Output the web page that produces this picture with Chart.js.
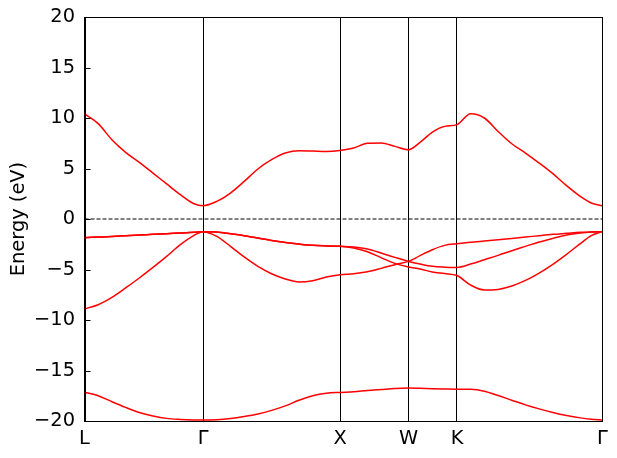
<!DOCTYPE html>
<html>
<head>
<meta charset="utf-8">
<script src="https://cdn.jsdelivr.net/npm/chart.js@4.4.1/dist/chart.umd.min.js"></script>
<style>
  html, body { margin: 0; padding: 0; background: #ffffff; }
  #wrap { width: 617px; height: 458px; }
</style>
</head>
<body>
<div id="wrap"><canvas id="bandChart" width="617" height="458"></canvas></div>
<script>
// 1. Data: k-path (2π/a units) and band energies (eV)
const kPath = [
  0, 0.1, 0.2, 0.3, 0.4, 0.5, 0.6, 0.7, 0.8, 0.866,              // L -> Γ
  0.966, 1.066, 1.166, 1.266, 1.366, 1.466, 1.566, 1.666, 1.766, 1.866, // Γ -> X
  1.966, 2.066, 2.166, 2.266, 2.366,                            // X -> W
  2.45, 2.54, 2.63, 2.72,                                       // W -> K
  2.82, 2.92, 3.02, 3.12, 3.22, 3.32, 3.42, 3.52, 3.62, 3.70, 3.781 // K -> Γ
];

const symPoints = [0, 0.866, 1.866, 2.366, 2.72, 3.781];
const symLabels = ['L', 'Γ', 'X', 'W', 'K', 'Γ'];
const energyTicks = [-20, -15, -10, -5, 0, 5, 10, 15, 20];
const fermiLevel = 0;

// lowest band
const band1 = [
  -17.15, -17.5, -18.09, -18.65, -19.15, -19.5, -19.74, -19.84, -19.89, -19.9,
  -19.87, -19.75, -19.55, -19.3, -18.95, -18.5, -17.95, -17.5, -17.25, -17.17,
  -17.11, -16.98, -16.88, -16.78, -16.73,
  -16.76, -16.8, -16.83, -16.85,
  -16.86, -17.05, -17.48, -17.94, -18.4, -18.8, -19.16, -19.46, -19.69, -19.82, -19.9
];

// valence lines, traced as continuous curves
const valenceA = [
  -8.9, -8.49, -7.76, -6.83, -5.84, -4.79, -3.7, -2.54, -1.62, -1.25,
  -1.72, -2.71, -3.76, -4.69, -5.42, -5.94, -6.24, -6.12, -5.75, -5.51,
  -5.42, -5.22, -4.89, -4.52, -4.2,
  -3.63, -3.04, -2.61, -2.45,
  -2.31, -2.18, -2.05, -1.92, -1.79, -1.65, -1.52, -1.42, -1.32, -1.29, -1.25
];

const valenceB = [
  -1.85, -1.79, -1.73, -1.65, -1.58, -1.52, -1.45, -1.39, -1.32, -1.25,
  -1.29, -1.46, -1.65, -1.88, -2.12, -2.32, -2.48, -2.61, -2.67, -2.71,
  -2.78, -2.97, -3.37, -3.8, -4.2,
  -4.46, -4.69, -4.77, -4.79,
  -4.46, -4.03, -3.6, -3.14, -2.71, -2.28, -1.92, -1.59, -1.39, -1.29, -1.25
];

const valenceC = [
  -1.85, -1.79, -1.73, -1.65, -1.58, -1.52, -1.45, -1.39, -1.32, -1.25,
  -1.29, -1.46, -1.65, -1.88, -2.12, -2.32, -2.48, -2.61, -2.67, -2.71,
  -2.88, -3.24, -3.83, -4.39, -4.75,
  -4.95, -5.25, -5.4, -5.6,
  -6.55, -7.03, -6.97, -6.64, -6.08, -5.35, -4.49, -3.5, -2.44, -1.65, -1.25
];

// conduction band
const conduction = [
  10.4, 9.44, 7.85, 6.6, 5.61, 4.55, 3.47, 2.41, 1.51, 1.32,
  1.74, 2.57, 3.72, 4.95, 5.87, 6.53, 6.76, 6.73, 6.69, 6.79,
  7.03, 7.49, 7.52, 7.19, 6.86,
  7.58, 8.61, 9.17, 9.34,
  10.42, 10.0, 8.67, 7.45, 6.53, 5.54, 4.49, 3.3, 2.24, 1.58, 1.32
];

const bands = [band1, valenceA, valenceB, valenceC, conduction];

// 2. Helpers
const FONT = { family: "'DejaVu Sans', sans-serif", size: 19.4 };

function toPoints(values) {
  return kPath.map((k, i) => ({ x: k, y: values[i] }));
}

function bandDataset(values) {
  return {
    data: toPoints(values),
    borderColor: '#ff0000',
    borderWidth: 1.5,
    pointRadius: 0,
    fill: false,
    cubicInterpolationMode: 'monotone'
  };
}

// frame on all four sides plus inward y tick marks (matplotlib look)
const framePlugin = {
  id: 'frame',
  afterDraw(chart) {
    const { ctx, chartArea: a, scales: { y } } = chart;
    const left = Math.round(a.left) + 0.5;
    const right = Math.round(a.right) + 0.5;
    const top = Math.round(a.top) + 0.5;
    const bottom = Math.round(a.bottom) + 0.5;
    ctx.save();
    ctx.strokeStyle = '#000000';
    ctx.lineWidth = 1;
    ctx.strokeRect(left, top, right - left, bottom - top);
    y.ticks.forEach(t => {
      const py = Math.round(y.getPixelForValue(t.value)) + 0.5;
      ctx.beginPath();
      ctx.moveTo(left, py);
      ctx.lineTo(left + 5, py);
      ctx.stroke();
    });
    ctx.restore();
  }
};

// 3. Build chart
const datasets = bands.map(bandDataset);
datasets.push({
  data: [{ x: symPoints[0], y: fermiLevel }, { x: symPoints[symPoints.length - 1], y: fermiLevel }],
  borderColor: '#000000',
  borderWidth: 1,
  borderDash: [4, 2],
  pointRadius: 0,
  fill: false
});

new Chart(document.getElementById('bandChart'), {
  type: 'line',
  data: { datasets },
  options: {
    responsive: false,
    animation: false,
    layout: { padding: { top: 17, right: 14.7, left: 0, bottom: 0 } },
    plugins: { legend: { display: false }, tooltip: { enabled: false } },
    scales: {
      x: {
        type: 'linear',
        min: symPoints[0],
        max: symPoints[symPoints.length - 1],
        afterBuildTicks: s => { s.ticks = symPoints.map(v => ({ value: v })); },
        afterFit: s => { s.height = 37; s.paddingLeft = 0; s.paddingRight = 0; },
        ticks: {
          autoSkip: false,
          maxRotation: 0,
          padding: 6.5,
          color: '#000000',
          font: FONT,
          callback: (v, i) => symLabels[i]
        },
        grid: { color: '#000000', lineWidth: 1, drawTicks: false },
        border: { display: true, color: '#000000', width: 1 }
      },
      y: {
        min: energyTicks[0],
        max: energyTicks[energyTicks.length - 1],
        afterBuildTicks: s => { s.ticks = energyTicks.map(v => ({ value: v })); },
        afterFit: s => { s.width = 84.5; s.paddingTop = 0; s.paddingBottom = 0; },
        ticks: {
          padding: 9.5,
          color: '#000000',
          font: FONT,
          callback: v => String(v).replace('-', '\u2212')
        },
        grid: { display: false, drawTicks: false },
        border: { display: true, color: '#000000', width: 1 },
        title: {
          display: true,
          text: 'Energy (eV)',
          color: '#000000',
          font: FONT,
          padding: { top: 7, bottom: 0 }
        }
      }
    }
  },
  plugins: [framePlugin]
});
</script>
</body>
</html>
